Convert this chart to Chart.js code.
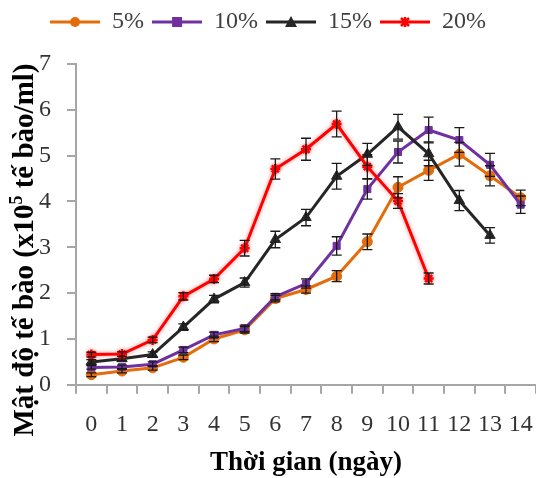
<!DOCTYPE html>
<html>
<head>
<meta charset="utf-8">
<script src="https://cdn.jsdelivr.net/npm/chart.js@4"></script>
<style>
  body { margin: 0; background: #fff; }
</style>
</head>
<body>
<canvas id="cell-chart" width="536" height="478"></canvas>
<script>
// days
const days = ["0", "1", "2", "3", "4", "5", "6", "7", "8", "9", "10", "11", "12", "13", "14"];
const seriesNames = ["5%", "10%", "15%", "20%"];

// cell density (x10^5 cells/ml)
const dens5 = [0.22, 0.30, 0.37, 0.60, 1.00, 1.20, 1.88, 2.08, 2.37, 3.12, 4.31, 4.68, 5.03, 4.56, 4.08];
const dens10 = [0.38, 0.39, 0.45, 0.76, 1.09, 1.23, 1.92, 2.21, 3.03, 4.27, 5.08, 5.56, 5.34, 4.80, 3.93];
const dens15 = [0.50, 0.57, 0.66, 1.26, 1.87, 2.23, 3.17, 3.65, 4.55, 5.03, 5.63, 5.04, 4.02, 3.26, null];
const dens20 = [0.66, 0.67, 0.98, 1.93, 2.31, 2.98, 4.71, 5.14, 5.69, 4.76, 4.01, 2.32, null, null, null];

// error (+/-)
const err5 = [0.04, 0.04, 0.05, 0.05, 0.06, 0.07, 0.07, 0.08, 0.12, 0.17, 0.23, 0.22, 0.26, 0.22, 0.17];
const err10 = [0.04, 0.04, 0.05, 0.06, 0.06, 0.07, 0.07, 0.10, 0.20, 0.22, 0.24, 0.28, 0.27, 0.25, 0.19];
const err15 = [0.05, 0.05, 0.06, 0.07, 0.08, 0.10, 0.18, 0.18, 0.28, 0.24, 0.27, 0.26, 0.22, 0.17, null];
const err20 = [0.05, 0.05, 0.06, 0.08, 0.08, 0.17, 0.22, 0.24, 0.28, 0.26, 0.16, 0.12, null, null, null];

const colors = ["#e46c0a", "#7030a0", "#262626", "#ff0000"];
const markers = ["circle", "rect", "triangle", "star"];

const serif = "'Liberation Serif', 'DejaVu Serif', serif";
const axisGray = "#a6a6a6";

// little "line + marker" icon for the legend
function legendIcon(color, marker) {
    const c = document.createElement("canvas");
    c.width = 50;
    c.height = 16;
    const g = c.getContext("2d");
    g.strokeStyle = color;
    g.fillStyle = color;
    g.lineWidth = 3;
    g.beginPath();
    g.moveTo(0, 8);
    g.lineTo(50, 8);
    g.stroke();
    g.beginPath();
    if (marker === "circle") {
        g.arc(25, 8, 5, 0, Math.PI * 2);
        g.fill();
    } else if (marker === "rect") {
        g.fillRect(20, 3, 10, 10);
    } else if (marker === "triangle") {
        g.moveTo(25, 2);
        g.lineTo(31, 13);
        g.lineTo(19, 13);
        g.closePath();
        g.fill();
    } else {
        g.lineWidth = 2.5;
        g.moveTo(21, 4); g.lineTo(29, 12);
        g.moveTo(29, 4); g.lineTo(21, 12);
        g.moveTo(25, 3); g.lineTo(25, 13);
        g.stroke();
    }
    return c;
}

const errorBars = {
    id: "errorBars",
    afterDatasetsDraw(chart) {
        const ctx = chart.ctx;
        const yScale = chart.scales.y;
        ctx.save();
        ctx.strokeStyle = "#1a1a1a";
        ctx.lineWidth = 1.3;
        chart.data.datasets.forEach((ds, i) => {
            const meta = chart.getDatasetMeta(i);
            meta.data.forEach((pt, j) => {
                const v = ds.data[j];
                const e = ds.errors[j];
                if (v == null || e == null) return;
                const x = pt.x;
                const yTop = yScale.getPixelForValue(v + e);
                const yBot = yScale.getPixelForValue(v - e);
                ctx.beginPath();
                ctx.moveTo(x, yTop); ctx.lineTo(x, yBot);
                ctx.moveTo(x - 5, yTop); ctx.lineTo(x + 5, yTop);
                ctx.moveTo(x - 5, yBot); ctx.lineTo(x + 5, yBot);
                ctx.stroke();
            });
        });
        ctx.restore();
    }
};

// soft glow under the red line, like the original
const redGlow = {
    id: "redGlow",
    beforeDatasetDraw(chart, args) {
        if (args.index !== 3) return;
        chart.ctx.save();
        chart.ctx.shadowColor = "rgba(255, 0, 0, 0.45)";
        chart.ctx.shadowBlur = 4;
    },
    afterDatasetDraw(chart, args) {
        if (args.index !== 3) return;
        chart.ctx.restore();
    }
};

// extra room under the legend
const legendGap = {
    id: "legendGap",
    beforeInit(chart) {
        const fit = chart.legend.fit;
        chart.legend.fit = function () {
            fit.bind(chart.legend)();
            this.height += 20;
        };
    }
};

// y title with a real superscript 5
const yTitle = {
    id: "yTitle",
    afterDraw(chart) {
        const ctx = chart.ctx;
        const big = "bold 29px " + serif;
        const small = "bold 18px " + serif;
        const parts = [["Mật độ tế bào (x10", big, 0], ["5", small, -11], [" tế bào/ml)", big, 0]];
        ctx.save();
        ctx.translate(33, 250);
        ctx.rotate(-Math.PI / 2);
        ctx.fillStyle = "#000";
        ctx.textBaseline = "alphabetic";
        let total = 0;
        parts.forEach(p => { ctx.font = p[1]; total += ctx.measureText(p[0]).width; });
        let x = -total / 2;
        parts.forEach(p => {
            ctx.font = p[1];
            ctx.fillText(p[0], x, p[2]);
            x += ctx.measureText(p[0]).width;
        });
        ctx.restore();
    }
};

const values = [dens5, dens10, dens15, dens20];
const errors = [err5, err10, err15, err20];

const datasets = seriesNames.map((name, i) => ({
    label: name,
    data: values[i],
    errors: errors[i],
    borderColor: colors[i],
    backgroundColor: colors[i],
    borderWidth: 3,
    pointStyle: markers[i],
    pointRadius: markers[i] === "triangle" ? 6 : 5,
    pointBorderWidth: markers[i] === "star" ? 2.5 : 1,
    pointBorderColor: colors[i],
    pointBackgroundColor: colors[i],
    tension: 0,
    spanGaps: false,
    order: 4 - i,
    legendIcon: legendIcon(colors[i], markers[i])
}));

new Chart(document.getElementById("cell-chart"), {
    type: "line",
    data: { labels: days, datasets: datasets },
    options: {
        responsive: false,
        animation: false,
        layout: { autoPadding: false, padding: { top: 2, right: 0, left: 0, bottom: -1 } },
        plugins: {
            tooltip: { enabled: false },
            legend: {
                position: "top",
                labels: {
                    usePointStyle: true,
                    pointStyleWidth: 50,
                    padding: 8,
                    color: "#404040",
                    font: { family: serif, size: 24 },
                    generateLabels(chart) {
                        return chart.data.datasets.map((ds, i) => ({
                            text: ds.label,
                            pointStyle: ds.legendIcon,
                            fillStyle: ds.borderColor,
                            strokeStyle: ds.borderColor,
                            lineWidth: 0,
                            fontColor: "#404040",
                            datasetIndex: i,
                            hidden: false
                        }));
                    }
                }
            }
        },
        scales: {
            x: {
                offset: true,
                grid: { drawOnChartArea: false, offset: true, tickLength: 9, color: axisGray, lineWidth: 2 },
                border: { color: axisGray, width: 2 },
                ticks: { color: "#333", font: { family: serif, size: 24 }, maxRotation: 0, autoSkip: false, padding: 17 },
                title: { display: true, text: "Thời gian (ngày)", color: "#000", font: { family: serif, size: 27, weight: "bold" }, padding: { top: -10, bottom: 0 } },
                afterFit(scale) {
                    scale.paddingLeft = 0;
                    scale.paddingRight = 0;
                }
            },
            y: {
                min: 0,
                max: 7,
                ticks: { stepSize: 1, color: "#333", font: { family: serif, size: 24 }, padding: 16 },
                grid: { drawOnChartArea: false, tickLength: 9, color: axisGray, lineWidth: 2 },
                border: { color: axisGray, width: 2 },
                afterFit(scale) {
                    scale.width = 76;
                }
            }
        }
    },
    plugins: [errorBars, redGlow, legendGap, yTitle]
});
</script>
</body>
</html>
